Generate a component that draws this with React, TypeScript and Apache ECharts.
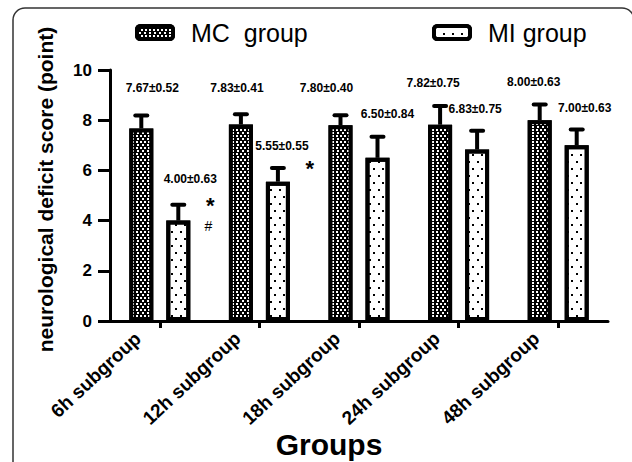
import React, { useEffect, useRef } from "react";
import * as echarts from "echarts";

const categories = ["6h subgroup", "12h subgroup", "18h subgroup", "24h subgroup", "48h subgroup"];
const mcMean = [7.67, 7.83, 7.8, 7.82, 8.0];
const mcSd = [0.52, 0.41, 0.4, 0.75, 0.63];
const miMean = [4.0, 5.55, 6.5, 6.83, 7.0];
const miSd = [0.63, 0.55, 0.84, 0.75, 0.63];
const miStar = ["*", "*", "", "", ""];
const miHash = ["#", "", "", "", ""];
const yTickMin = 0;
const yTickMax = 10;
const yTickStep = 2;

// label layout nudges (pixels), not data
const mcLabelDx = [11, -4, -14, -7, -6];
const mcLabelDy = [-27, -26, -27, -23, -22];
const miLabelDx = [12, 4, 10, -2, 8];
const miLabelDy = [-26, -22, -23, -22, -21];

const BAR_W = 24;
const BAR_GAP_PX = 13;
const HALF = (BAR_W + BAR_GAP_PX) / 2;
const FONT = "Arial, 'Liberation Sans', sans-serif";

const mcDecal = {
  symbol: "rect",
  symbolSize: 1,
  color: "#ffffff",
  dashArrayX: [[1.5, 1.5], [0, 1.5, 1.5, 0.01]],
  dashArrayY: [1.5, 0.25],
  rotation: 0,
};
const miDecal = {
  symbol: "rect",
  symbolSize: 1,
  color: "#000000",
  dashArrayX: [[1.5, 6.5], [0, 4, 1.5, 2.5]],
  dashArrayY: [1.5, 4.5],
  rotation: 0,
};

function errSeries(name: string, means: number[], sds: number[], off: number, dx: number[], dy: number[], marks: boolean) {
  return {
    type: "custom",
    name: name + " err",
    z: 5,
    silent: true,
    data: means.map((m, i) => [i, m, sds[i]]),
    encode: { x: 0, y: 1 },
    renderItem: (params: any, api: any) => {
      const i = params.dataIndex;
      const m = means[i];
      const s = sds[i];
      const b = api.coord([i, m]);
      const t = api.coord([i, m + s]);
      const x = b[0] + off;
      const children: any[] = [
        { type: "line", shape: { x1: x, y1: b[1], x2: x, y2: t[1] }, style: { stroke: "#000", lineWidth: 4 } },
        { type: "line", shape: { x1: x - 6, y1: t[1], x2: x + 6, y2: t[1] }, style: { stroke: "#000", lineWidth: 4, lineCap: "round" } },
        {
          type: "text",
          x: x + dx[i],
          y: t[1] + dy[i],
          style: { text: `${m.toFixed(2)}±${s.toFixed(2)}`, fill: "#000", font: `bold 12px ${FONT}`, align: "center", verticalAlign: "middle" },
        },
      ];
      if (marks && miStar[i]) {
        children.push({
          type: "text",
          x: x + 32,
          y: t[1] + 1,
          style: { text: miStar[i], fill: "#000", font: `bold 22px ${FONT}`, align: "center", verticalAlign: "middle" },
        });
      }
      if (marks && miHash[i]) {
        children.push({
          type: "text",
          x: x + 30,
          y: b[1] + 5,
          style: { text: miHash[i], fill: "#000", font: `14px ${FONT}`, align: "center", verticalAlign: "middle" },
        });
      }
      return { type: "group", children };
    },
  };
}

export default function App() {
  const ref = useRef<HTMLDivElement>(null);
  useEffect(() => {
    if (!ref.current) return;
    const chart = echarts.init(ref.current, null, { renderer: "svg" });
    const legendCommon = {
      orient: "horizontal",
      top: 15,
      itemWidth: 36,
      itemHeight: 13,
      icon: "roundRect",
      selectedMode: false,
      textStyle: { fontSize: 25, color: "#000", fontFamily: FONT, padding: [0, 0, 0, 13] },
    };
    chart.setOption({
      animation: false,
      backgroundColor: "#ffffff",
      graphic: [
        {
          type: "rect",
          silent: true,
          z: -10,
          shape: { x: 13, y: 8, width: 621, height: 480, r: 12 },
          style: { fill: "none", stroke: "#333", lineWidth: 1.5 },
        },
      ],
      legend: [
        {
          ...legendCommon,
          left: 130,
          data: [{ name: "MC  group", itemStyle: { color: "#000", borderWidth: 4, borderColor: "#000", decal: mcDecal } }],
        },
        {
          ...legendCommon,
          left: 427,
          data: [{ name: "MI group", itemStyle: { color: "#fff", borderWidth: 4, borderColor: "#000", decal: miDecal } }],
        },
      ],
      grid: { left: 110, right: 24, top: 70, bottom: 141, containLabel: false, outerBoundsMode: "none" },
      xAxis: {
        type: "category",
        data: categories,
        name: "Groups",
        nameLocation: "middle",
        nameGap: 108,
        nameMoveOverlap: false,
        nameTextStyle: { fontSize: 30, fontWeight: "bold", color: "#000", fontFamily: FONT, padding: [0, 60, 0, 0] },
        axisLine: { lineStyle: { color: "#000", width: 3 } },
        axisTick: { show: true, alignWithLabel: true, length: 7, lineStyle: { color: "#000", width: 3 } },
        axisLabel: { rotate: 43, margin: -6, padding: [0, 30, 0, 0], fontSize: 19, fontWeight: "bold", color: "#000", fontFamily: FONT, interval: 0 },
      },
      yAxis: {
        type: "value",
        min: yTickMin,
        max: yTickMax,
        interval: yTickStep,
        name: "neurological deficit score (point)",
        nameLocation: "middle",
        nameRotate: 90,
        nameGap: 54,
        nameMoveOverlap: false,
        nameTextStyle: { fontSize: 21, fontWeight: "bold", color: "#000", fontFamily: FONT, padding: [0, 0, 0, 12] },
        splitLine: { show: false },
        axisLine: { show: true, lineStyle: { color: "#000", width: 3 } },
        axisTick: { show: true, length: 12, lineStyle: { color: "#000", width: 3 } },
        axisLabel: { margin: 18, fontSize: 17, fontWeight: "bold", color: "#000", fontFamily: FONT },
      },
      series: [
        {
          type: "bar",
          name: "MC  group",
          data: mcMean,
          barWidth: BAR_W,
          barGap: `${(BAR_GAP_PX / BAR_W) * 100}%`,
          itemStyle: { color: "#000", borderColor: "#000", borderWidth: 4, decal: mcDecal },
        },
        {
          type: "bar",
          name: "MI group",
          data: miMean,
          barWidth: BAR_W,
          barGap: `${(BAR_GAP_PX / BAR_W) * 100}%`,
          itemStyle: { color: "#fff", borderColor: "#000", borderWidth: 4, decal: miDecal },
        },
        errSeries("MC", mcMean, mcSd, -HALF, mcLabelDx, mcLabelDy, false),
        errSeries("MI", miMean, miSd, HALF, miLabelDx, miLabelDy, true),
      ],
    });
    return () => chart.dispose();
  }, []);
  return <div ref={ref} style={{ position: "absolute", left: 0, top: 0, width: 632, height: 462 }} />;
}
